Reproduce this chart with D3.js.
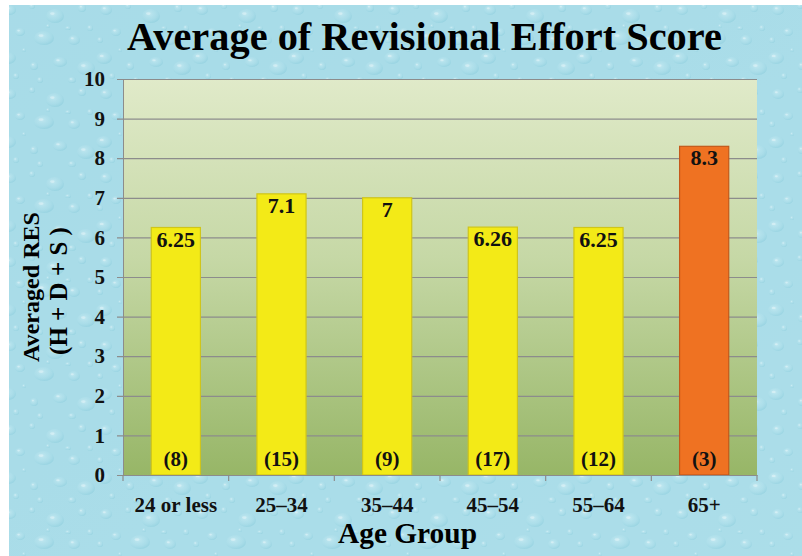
<!DOCTYPE html>
<html><head><meta charset="utf-8">
<script src="https://cdn.jsdelivr.net/npm/d3@7"></script>
<style>html,body{margin:0;padding:0;background:#fff;}svg{display:block;}</style>
</head><body>
<script>
const categories = ["24 or less","25–34","35–44","45–54","55–64","65+"];
const values = [6.25, 7.1, 7, 6.26, 6.25, 8.3];
const valueLabels = ["6.25","7.1","7","6.26","6.25","8.3"];
const counts = ["(8)","(15)","(9)","(17)","(12)","(3)"];
const yTicks = [0,1,2,3,4,5,6,7,8,9,10];

const W = 802, H = 556;
const m = {left:123, right:757, top:79, bottom:475};
const svg = d3.select("body").append("svg").attr("width", W).attr("height", H);
const defs = svg.append("defs");

// background texture (water drops)
const bgGrad = defs.append("linearGradient").attr("id","bgG").attr("x1",0).attr("y1",0).attr("x2",1).attr("y2",1);
bgGrad.append("stop").attr("offset","0%").attr("stop-color","#a3d9e6");
bgGrad.append("stop").attr("offset","100%").attr("stop-color","#b2e2ed");
const dropG = defs.append("radialGradient").attr("id","dropG").attr("cx","0.4").attr("cy","0.35").attr("r","0.7");
dropG.append("stop").attr("offset","0%").attr("stop-color","#e6f8fb").attr("stop-opacity",0.55);
dropG.append("stop").attr("offset","50%").attr("stop-color","#bfe8f1").attr("stop-opacity",0.25);
dropG.append("stop").attr("offset","100%").attr("stop-color","#6cbccf").attr("stop-opacity",0.45);
const pat = defs.append("pattern").attr("id","drops").attr("patternUnits","userSpaceOnUse").attr("width",96).attr("height",84);
const drops = [[10,10,6,5],[32,6,3,3],[55,16,9,7],[82,8,4,4],[20,32,5,4],[44,38,10,7],[74,40,6,5],[90,28,3,3],[8,58,8,6],[34,66,4,4],[60,62,7,5],[86,68,9,7],[48,26,2,2],[68,28,3,2],[24,50,2,2],[4,40,3,3],[40,80,3,3],[72,80,4,3],[16,76,3,3]];
pat.append("rect").attr("width",96).attr("height",84).attr("fill","#a9dce8");
drops.forEach(d=>{
  pat.append("ellipse").attr("cx",d[0]).attr("cy",d[1]).attr("rx",d[2]).attr("ry",d[3]).attr("fill","url(#dropG)");
  pat.append("ellipse").attr("cx",d[0]-d[2]*0.3).attr("cy",d[1]-d[3]*0.35).attr("rx",d[2]*0.25).attr("ry",d[3]*0.2).attr("fill","#ffffff").attr("opacity",0.45);
});
svg.append("rect").attr("x",9).attr("y",5).attr("width",W-9).attr("height",H-5).attr("fill","url(#bgG)");
svg.append("rect").attr("x",9).attr("y",5).attr("width",W-9).attr("height",H-5).attr("fill","url(#drops)").attr("opacity",0.75);

// plot gradient
const pg = defs.append("linearGradient").attr("id","plotG").attr("x1",0).attr("y1",0).attr("x2",0).attr("y2",1);
pg.append("stop").attr("offset","0%").attr("stop-color","#e0eac9");
pg.append("stop").attr("offset","45%").attr("stop-color","#c6d8a6");
pg.append("stop").attr("offset","100%").attr("stop-color","#97b667");

const x = d3.scaleBand().domain(categories).range([m.left, m.right]).paddingInner(0.535).paddingOuter(0.2675);
const y = d3.scaleLinear().domain([0,10]).range([m.bottom, m.top]);

svg.append("rect").attr("x",m.left).attr("y",m.top).attr("width",m.right-m.left).attr("height",m.bottom-m.top).attr("fill","url(#plotG)");

const font = "'Liberation Serif', 'DejaVu Serif', serif";

// gridlines + y axis
const yAxis = d3.axisLeft(y).tickValues(yTicks).tickSize(-(m.right-m.left)).tickSizeOuter(0).tickPadding(18);
const gy = svg.append("g").attr("transform",`translate(${m.left},0)`).call(yAxis);
gy.select(".domain").attr("stroke","#8c8c8c");
gy.selectAll(".tick line").attr("stroke","#8c8c8c").attr("stroke-width",1.2).attr("x1",-6);
gy.selectAll(".tick text").attr("font-family",font).attr("font-weight","bold").attr("font-size",21).attr("fill","#111");

// bars
const barColors = values.map((v,i)=> i===values.length-1 ? "#ef7222" : "#f3ea17");
const barStroke = values.map((v,i)=> i===values.length-1 ? "#c4581a" : "#cfc51a");
svg.append("g").selectAll("rect").data(values).join("rect")
  .attr("x",(d,i)=>x(categories[i])).attr("y",d=>y(d))
  .attr("width",x.bandwidth()).attr("height",d=>y(0)-y(d))
  .attr("fill",(d,i)=>barColors[i]).attr("stroke",(d,i)=>barStroke[i]).attr("stroke-width",1.2);

// x axis
const xAxis = d3.axisBottom(x).tickSize(0).tickSizeOuter(0).tickPadding(22);
const gx = svg.append("g").attr("transform",`translate(0,${m.bottom})`).call(xAxis);
gx.select(".domain").attr("stroke","#8c8c8c").attr("stroke-width",1.2);
gx.selectAll(".tick text").attr("font-family",font).attr("font-weight","bold").attr("font-size",21).attr("fill","#111");
// category boundary ticks
gx.append("g").selectAll("line").data(d3.range(categories.length+1)).join("line")
  .attr("x1",i=>m.left+i*(m.right-m.left)/categories.length).attr("x2",i=>m.left+i*(m.right-m.left)/categories.length)
  .attr("y1",0).attr("y2",6).attr("stroke","#8c8c8c").attr("stroke-width",1.2);

// value labels
svg.append("g").selectAll("text").data(values).join("text")
  .attr("x",(d,i)=>x(categories[i])+x.bandwidth()/2).attr("y",d=>y(d)+19)
  .attr("text-anchor","middle").attr("font-family",font).attr("font-weight","bold").attr("font-size",22).attr("fill","#111")
  .text((d,i)=>valueLabels[i]);
// count labels
svg.append("g").selectAll("text").data(counts).join("text")
  .attr("x",(d,i)=>x(categories[i])+x.bandwidth()/2).attr("y",m.bottom-9)
  .attr("text-anchor","middle").attr("font-family",font).attr("font-weight","bold").attr("font-size",21).attr("fill","#111")
  .text(d=>d);

function fit(sel, w){ const n = sel.node(); const cur = n.getComputedTextLength(); const fs = parseFloat(sel.attr("font-size")); sel.attr("font-size", fs*w/cur); }

// title
const t = svg.append("text").attr("x",424.5).attr("y",50).attr("text-anchor","middle")
  .attr("font-family",font).attr("font-weight","bold").attr("font-size",38).attr("fill","#000")
  .text("Average of Revisional Effort Score");
fit(t, 595);

// x title
const xt = svg.append("text").attr("x",407.5).attr("y",543).attr("text-anchor","middle")
  .attr("font-family",font).attr("font-weight","bold").attr("font-size",26).attr("fill","#000").text("Age Group");
fit(xt, 139);

// y title
const yt1 = svg.append("text").attr("transform","translate(39,287) rotate(-90)").attr("text-anchor","middle")
  .attr("font-family",font).attr("font-weight","bold").attr("font-size",20).attr("fill","#000").text("Averaged RES");
fit(yt1, 150);
const yt2 = svg.append("text").attr("transform","translate(67,291) rotate(-90)").attr("text-anchor","middle")
  .attr("font-family",font).attr("font-weight","bold").attr("font-size",20).attr("fill","#000").text("(H + D + S )");
fit(yt2, 128);
</script>
</body></html>
